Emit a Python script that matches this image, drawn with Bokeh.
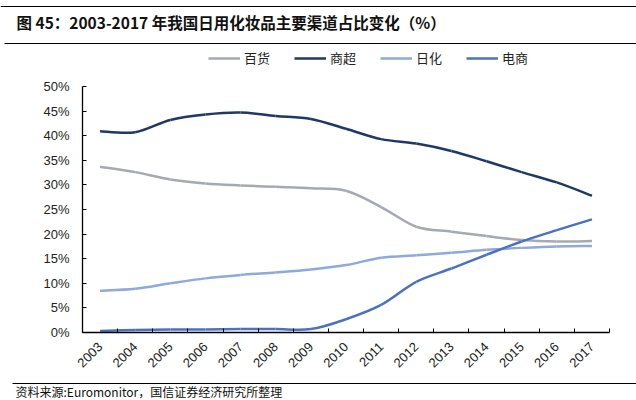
from bokeh.plotting import figure
from bokeh.layouts import column
from bokeh.models import (Range1d, FixedTicker, PrintfTickFormatter, Legend, LegendItem,
                          Label, ColumnDataSource)
from bokeh.embed import file_html
from bokeh.resources import INLINE
import math

years = ["2003", "2004", "2005", "2006", "2007", "2008", "2009", "2010",
         "2011", "2012", "2013", "2014", "2015", "2016", "2017"]
baihuo = [33.7, 32.6, 31.1, 30.3, 29.9, 29.6, 29.3, 28.8, 25.5, 21.5, 20.5, 19.6, 18.8, 18.5, 18.6]
shangchao = [40.9, 40.7, 43.2, 44.3, 44.7, 44.0, 43.4, 41.4, 39.3, 38.4, 36.9, 34.8, 32.6, 30.5, 27.8]
rihua = [8.5, 8.9, 10.0, 11.0, 11.7, 12.2, 12.8, 13.7, 15.2, 15.7, 16.2, 16.8, 17.2, 17.5, 17.6]
dianshang = [0.3, 0.5, 0.6, 0.6, 0.7, 0.7, 0.7, 2.7, 5.6, 10.3, 13.0, 15.8, 18.5, 20.8, 23.0]

title_text = "图 45：2003-2017 年我国日用化妆品主要渠道占比变化（%）"
source_text = "资料来源:Euromonitor，国信证券经济研究所整理"

series = [("百货", baihuo, "#A5A9B0"),
          ("商超", shangchao, "#1F3864"),
          ("日化", rihua, "#8EA9DB"),
          ("电商", dianshang, "#4A72C2")]

W = 636
TOP_H, MAIN_H, FOOT_H = 78, 302, 20
xs = [i + 0.5 for i in range(len(years))]


def no_align(f):
    try:
        f.frame_align = False
    except Exception:
        pass


def blank_fig(h):
    f = figure(width=W, height=h, output_backend="svg", toolbar_location=None,
               x_range=Range1d(0, W), y_range=Range1d(0, h),
               x_axis_type=None, y_axis_type=None,
               min_border=0, min_border_left=0, min_border_right=0,
               min_border_top=0, min_border_bottom=0)
    f.grid.visible = False
    f.outline_line_color = None
    f.background_fill_color = "white"
    f.border_fill_color = "white"
    no_align(f)
    return f


def rule(f, h, y_from_top, left=0):
    yy = h - y_from_top
    f.segment(x0=[left], y0=[yy], x1=[W], y1=[yy], line_color="black", line_width=1.2)

# ---------- header: rules, title, legend ----------
top = blank_fig(TOP_H)
rule(top, TOP_H, 6)
rule(top, TOP_H, 43, left=4)
top.add_layout(Label(x=16, y=TOP_H - 21, text=title_text, text_font="Noto Sans CJK SC",
                     text_font_style="bold", text_font_size="15.5px",
                     text_baseline="middle", text_color="#111111"))
items = []
for name, vals, col in series:
    r = top.line(x=xs, y=vals, line_color=col, line_width=2.5, visible=False)
    items.append(LegendItem(label=name, renderers=[r]))
legend = Legend(items=items, orientation="horizontal", location=(208, 11),
                glyph_width=32, glyph_height=16, label_height=16, label_standoff=4,
                spacing=24, padding=0, margin=0, border_line_color=None,
                background_fill_alpha=0, inactive_fill_alpha=0,
                label_text_font="Noto Sans CJK SC", label_text_font_size="13px",
                label_text_color="#222222")
top.add_layout(legend, "center")

# ---------- main chart ----------
p = figure(width=W, height=MAIN_H, output_backend="svg", toolbar_location=None,
           x_range=Range1d(0, len(years)), y_range=Range1d(0, 50),
           min_border_left=82, min_border_right=27, min_border_top=8, min_border_bottom=48)
p.outline_line_color = None
p.grid.visible = False
p.background_fill_color = "white"
p.border_fill_color = "white"
no_align(p)


def smooth_source(vals):
    n = len(vals)
    d = dict(x0=[], y0=[], x1=[], y1=[], cx0=[], cy0=[], cx1=[], cy1=[])
    for i in range(n - 1):
        im1 = max(i - 1, 0)
        ip2 = min(i + 2, n - 1)
        d["x0"].append(xs[i]); d["y0"].append(vals[i])
        d["x1"].append(xs[i + 1]); d["y1"].append(vals[i + 1])
        d["cx0"].append(xs[i] + (xs[i + 1] - xs[im1]) / 6)
        d["cy0"].append(vals[i] + (vals[i + 1] - vals[im1]) / 6)
        d["cx1"].append(xs[i + 1] - (xs[ip2] - xs[i]) / 6)
        d["cy1"].append(vals[i + 1] - (vals[ip2] - vals[i]) / 6)
    return ColumnDataSource(d)


for name, vals, col in series:
    p.bezier(x0="x0", y0="y0", x1="x1", y1="y1", cx0="cx0", cy0="cy0", cx1="cx1", cy1="cy1",
             source=smooth_source(vals), line_color=col, line_width=2.5)

xa = p.xaxis[0]
xa.ticker = FixedTicker(ticks=xs, minor_ticks=list(range(len(years) + 1)))
xa.major_label_overrides = {x: y for x, y in zip(xs, years)}
xa.major_label_orientation = math.pi / 4
xa.major_tick_line_color = None
xa.minor_tick_line_color = "black"
xa.minor_tick_in = 4
xa.minor_tick_out = 0
xa.axis_line_color = "black"
xa.axis_line_width = 1.3
xa.major_label_text_font = "Liberation Sans"
xa.major_label_text_font_size = "13px"
xa.major_label_text_color = "#222222"
xa.major_label_standoff = 6

ya = p.yaxis[0]
ya.ticker = FixedTicker(ticks=list(range(0, 51, 5)))
ya.formatter = PrintfTickFormatter(format="%d%%")
ya.minor_tick_line_color = None
ya.major_tick_in = 4
ya.major_tick_out = 0
ya.axis_line_color = "black"
ya.axis_line_width = 1.3
ya.major_label_text_font = "Liberation Sans"
ya.major_label_text_font_size = "13px"
ya.major_label_text_color = "#222222"
ya.major_label_standoff = 13

# ---------- footer ----------
foot = blank_fig(FOOT_H)
rule(foot, FOOT_H, 3, left=12)
foot.add_layout(Label(x=15, y=FOOT_H - 11, text=source_text, text_font="Noto Sans CJK SC",
                      text_font_size="12px", text_baseline="middle", text_color="#111111"))

layout = column(top, p, foot, spacing=0)
open("out.html", "w").write(file_html(layout, INLINE))
